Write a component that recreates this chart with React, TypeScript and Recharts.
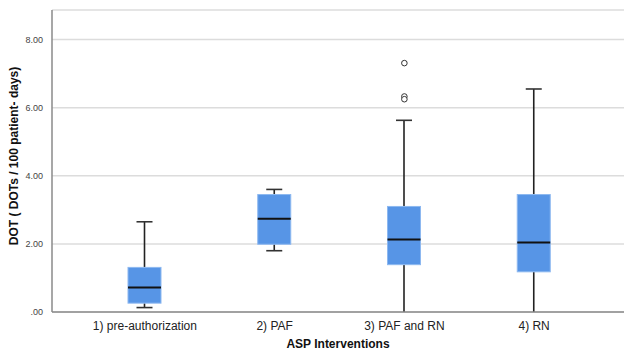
import React from 'react';
import { ComposedChart, Bar, Scatter, XAxis, YAxis, CartesianGrid, Label } from 'recharts';

const categories = ['1) pre-authorization', '2) PAF', '3) PAF and RN', '4) RN'];
const whiskerLow = [0.13, 1.8, 0, 0];
const quart1 = [0.26, 1.99, 1.39, 1.18];
const medians = [0.72, 2.74, 2.13, 2.04];
const quart3 = [1.31, 3.45, 3.1, 3.45];
const whiskerHigh = [2.65, 3.6, 5.63, 6.55];
const outliers: number[][] = [[], [], [7.31, 6.33, 6.25], []];
const yTicks = [0, 2, 4, 6, 8];

const data = categories.map((c, i) => ({
  cat: c,
  lo: whiskerLow[i],
  q1: quart1[i],
  med: medians[i],
  q3: quart3[i],
  hi: whiskerHigh[i],
  o1: outliers[i][0] ?? null,
  o2: outliers[i][1] ?? null,
  o3: outliers[i][2] ?? null,
}));

const BoxShape = (props: any) => {
  const { x, y, width, height, payload } = props;
  if (x == null || y == null) return null;
  const p = payload;
  const toY = (v: number) => y + (height * (p.hi - v)) / (p.hi - p.lo);
  const cx = x + width / 2;
  const capW = 16;
  const yq1 = toY(p.q1);
  const yq3 = toY(p.q3);
  const ym = toY(p.med);
  const yHi = toY(p.hi);
  const yLo = toY(p.lo);
  return (
    <g>
      <line x1={cx} x2={cx} y1={yHi} y2={yq3} stroke="#222" strokeWidth={1.6} />
      <line x1={cx} x2={cx} y1={yq1} y2={yLo} stroke="#222" strokeWidth={1.6} />
      {p.lo > 0 && <line x1={cx - capW / 2} x2={cx + capW / 2} y1={yLo} y2={yLo} stroke="#333" strokeWidth={1.6} />}
      <line x1={cx - capW / 2} x2={cx + capW / 2} y1={yHi} y2={yHi} stroke="#333" strokeWidth={1.6} />
      <rect x={x} y={yq3} width={width} height={yq1 - yq3} fill="#5795E6" stroke="#8DB8F0" strokeWidth={1} />
      <line x1={x} x2={x + width} y1={ym} y2={ym} stroke="#111" strokeWidth={2} />
    </g>
  );
};

const OutlierShape = (props: any) => {
  const { cx, cy } = props;
  if (cx == null || cy == null || isNaN(cy)) return null;
  return <circle cx={cx} cy={cy} r={2.8} fill="#fff" stroke="#333" strokeWidth={1} />;
};

export default function App() {
  return (
    <div style={{ position: 'absolute', left: 0, top: 0, background: '#fff' }}>
      <ComposedChart
        width={624}
        height={354}
        data={data}
        margin={{ top: 10, right: 0, bottom: 0, left: 0 }}
        barSize={33}
      >
        <CartesianGrid horizontal vertical={false} stroke="#dcdcdc" strokeWidth={1.5} />
        <XAxis
          dataKey="cat"
          type="category"
          height={42}
          padding={{ left: 28, right: 25 }}
          tickLine={false}
          axisLine={{ stroke: '#8a8a8a', strokeWidth: 1.5 }}
          tick={{ fontSize: 12, fill: '#222', fontFamily: 'Liberation Sans, Arial, sans-serif' }}
          tickMargin={3}
        >
          <Label
            value="ASP Interventions"
            position="insideBottom"
            offset={6}
            style={{ fontSize: 12, fontWeight: 'bold', fill: '#111', fontFamily: 'Liberation Sans, Arial, sans-serif' }}
          />
        </XAxis>
        <YAxis
          type="number"
          domain={[0, 8.87]}
          ticks={yTicks}
          width={52}
          tickLine={false}
          tickMargin={3}
          axisLine={{ stroke: '#8a8a8a', strokeWidth: 1.5 }}
          tickFormatter={(v: number) => (v === 0 ? '.00' : v.toFixed(2))}
          tick={{ fontSize: 9, fill: '#444', fontFamily: 'Liberation Sans, Arial, sans-serif' }}
        >
          <Label
            value="DOT ( DOTs / 100 patient- days)"
            angle={-90}
            position="insideLeft"
            offset={14}
            dy={-5}
            style={{ textAnchor: 'middle', fontSize: 12, fontWeight: 'bold', fill: '#111', fontFamily: 'Liberation Sans, Arial, sans-serif' }}
          />
        </YAxis>
        <Bar dataKey={(d: any) => [d.lo, d.hi]} shape={BoxShape} isAnimationActive={false} />
        <Scatter dataKey="o1" shape={OutlierShape} isAnimationActive={false} />
        <Scatter dataKey="o2" shape={OutlierShape} isAnimationActive={false} />
        <Scatter dataKey="o3" shape={OutlierShape} isAnimationActive={false} />
      </ComposedChart>
    </div>
  );
}
